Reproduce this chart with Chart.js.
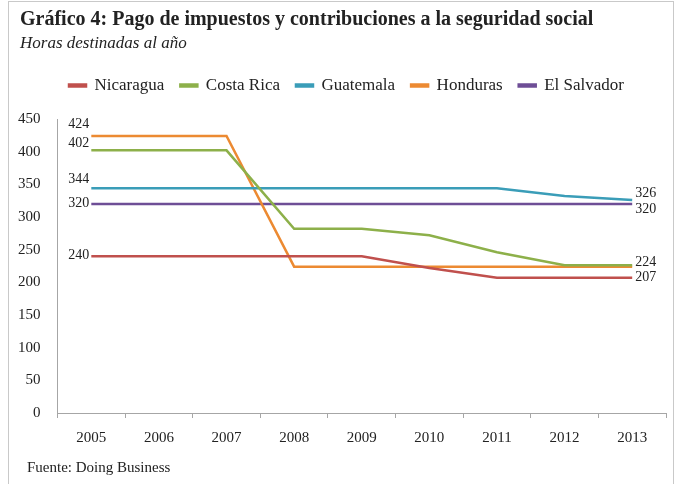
<!DOCTYPE html>
<html>
<head>
<meta charset="utf-8">
<script src="https://cdn.jsdelivr.net/npm/chart.js@4"></script>
<style>
  html, body { margin: 0; padding: 0; background: #fff; }
  body { width: 679px; height: 484px; position: relative; overflow: hidden; font-family: "Liberation Serif", serif; color: #222; }
  #frame { position: absolute; left: 8px; top: 1px; width: 666px; height: 500px; border: 1px solid #c9c9c9; box-sizing: border-box; }
  #title { position: absolute; left: 20px; top: 7px; font-size: 20px; font-weight: bold; white-space: nowrap; }
  #subtitle { position: absolute; left: 20px; top: 33px; font-size: 17px; font-style: italic; white-space: nowrap; }
  #source { position: absolute; left: 27px; top: 459px; font-size: 15px; white-space: nowrap; }
  #wrap { position: absolute; left: 0; top: 0; width: 679px; height: 484px; }
</style>
</head>
<body>
<div id="frame"></div>
<div id="wrap"><canvas id="chart"></canvas></div>
<div id="title">Gráfico 4: Pago de impuestos y contribuciones a la seguridad social</div>
<div id="subtitle">Horas destinadas al año</div>
<div id="source">Fuente: Doing Business</div>
<script>
// Años (eje X)
const years = ['2005', '2006', '2007', '2008', '2009', '2010', '2011', '2012', '2013'];

// Horas por país
const nicaragua = [240, 240, 240, 240, 240, 222, 207, 207, 207];
const costaRica = [402, 402, 402, 282, 282, 272, 246, 226, 226];
const guatemala = [344, 344, 344, 344, 344, 344, 344, 332, 326];
const honduras = [424, 424, 424, 224, 224, 224, 224, 224, 224];
const elSalvador = [320, 320, 320, 320, 320, 320, 320, 320, 320];

const serif = '"Liberation Serif", serif';

function serie(label, data, color, startDy, endDy) {
  return {
    label, data,
    borderColor: color,
    backgroundColor: color,
    borderWidth: 2.5,
    pointRadius: 0,
    tension: 0,
    startDy, endDy // desplazamiento vertical de las etiquetas de extremo
  };
}

// Etiquetas con el valor al inicio y al final de cada línea
const endLabels = {
  id: 'endLabels',
  afterDatasetsDraw(chart) {
    const ctx = chart.ctx;
    ctx.save();
    ctx.font = '14px ' + serif;
    ctx.fillStyle = '#222';
    ctx.textBaseline = 'middle';
    chart.data.datasets.forEach((ds, i) => {
      const pts = chart.getDatasetMeta(i).data;
      if (ds.startDy !== null) {
        const p = pts[0];
        ctx.textAlign = 'right';
        ctx.fillText(String(ds.data[0]), p.x - 2, p.y + ds.startDy);
      }
      if (ds.endDy !== null) {
        const last = ds.data.length - 1;
        const p = pts[last];
        ctx.textAlign = 'left';
        ctx.fillText(String(ds.data[last]), p.x + 3, p.y + ds.endDy);
      }
    });
    ctx.restore();
  }
};

// Más espacio bajo la leyenda y leyenda algo desplazada a la derecha
const legendGap = {
  id: 'legendGap',
  beforeInit(chart) {
    const fit = chart.legend.fit;
    chart.legend.fit = function () {
      fit.call(this);
      this.height += 15;
    };
  },
  afterLayout(chart) {
    chart.legend.left += 13;
    chart.legend.right += 13;
  }
};

new Chart(document.getElementById('chart'), {
  type: 'line',
  data: {
    labels: years,
    datasets: [
      serie('Nicaragua', nicaragua, '#C0504D', -1, 0),
      serie('Costa Rica', costaRica, '#8DB04A', -7, null),
      serie('Guatemala', guatemala, '#3A9DB8', -9, -7),
      serie('Honduras', honduras, '#EC8A32', -12, -4),
      serie('El Salvador', elSalvador, '#6E4E96', -1, 5)
    ]
  },
  options: {
    responsive: true,
    maintainAspectRatio: false,
    animation: false,
    layout: { padding: { left: 1, right: 13, top: 61, bottom: 26 } },
    plugins: {
      legend: {
        position: 'top',
        labels: {
          boxWidth: 17,
          boxHeight: 2,
          padding: 16,
          color: '#222',
          font: { family: serif, size: 17 }
        }
      },
      tooltip: { enabled: false }
    },
    scales: {
      x: {
        offset: true,
        grid: { display: true, drawOnChartArea: false, drawTicks: true, tickLength: 5, color: '#a6a6a6', offset: true },
        border: { display: true, color: '#a6a6a6', width: 1 },
        ticks: { color: '#222', padding: 11, font: { family: serif, size: 15 } }
      },
      y: {
        min: 0,
        max: 450,
        grid: { display: false, drawTicks: false },
        border: { display: true, color: '#a6a6a6', width: 1 },
        ticks: { stepSize: 50, color: '#222', padding: 17, font: { family: serif, size: 15 } }
      }
    }
  },
  plugins: [endLabels, legendGap]
});
</script>
</body>
</html>
